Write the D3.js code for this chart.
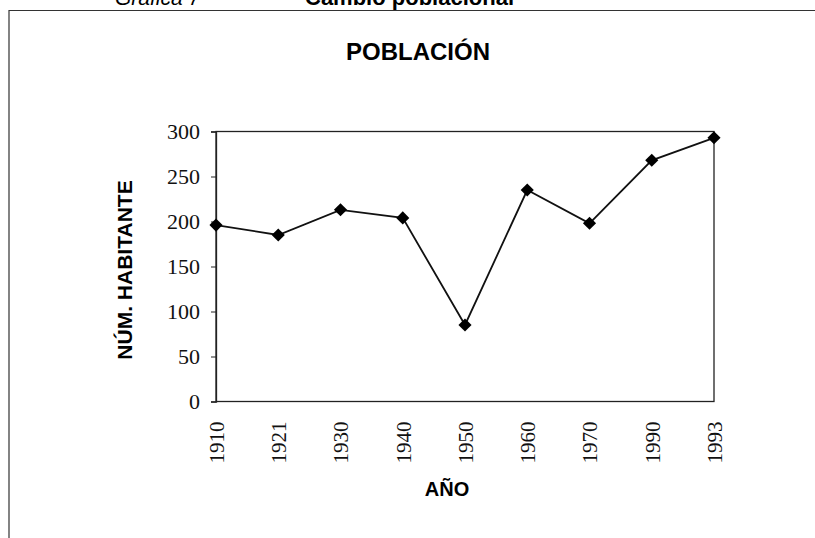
<!DOCTYPE html>
<html>
<head>
<meta charset="utf-8">
<script src="https://cdn.jsdelivr.net/npm/d3@7"></script>
<style>
  body { margin: 0; background: #fff; }
</style>
</head>
<body>
<div id="chart"></div>
<script>
const years = ["1910", "1921", "1930", "1940", "1950", "1960", "1970", "1990", "1993"];
const habitantes = [196, 185, 213, 204, 85, 235, 198, 268, 293];
const yTicks = [0, 50, 100, 150, 200, 250, 300];

const width = 815;
const height = 538;
const plotLeft = 216;
const plotRight = 714;
const plotTop = 131.5;
const plotBottom = 401.5;

const data = years.map((y, i) => ({ year: y, value: habitantes[i] }));

const x = d3.scalePoint()
  .domain(years)
  .range([plotLeft, plotRight])
  .padding(0);

const y = d3.scaleLinear()
  .domain([0, 300])
  .range([plotBottom, plotTop]);

const svg = d3.select("#chart")
  .append("svg")
  .attr("width", width)
  .attr("height", height)
  .attr("viewBox", [0, 0, width, height]);

// page header (cut off at the top, as in the scan)
svg.append("text")
  .attr("x", 115)
  .attr("y", 5)
  .attr("font-family", "Liberation Sans, Arial, sans-serif")
  .attr("font-style", "italic")
  .attr("font-size", 21)
  .text("Gráfica 7");

svg.append("text")
  .attr("x", 305)
  .attr("y", 5)
  .attr("font-family", "Liberation Sans, Arial, sans-serif")
  .attr("font-weight", "bold")
  .attr("font-size", 22)
  .text("Cambio poblacional");

// outer frame
svg.append("path")
  .attr("d", `M9,${height} L9,10.5 L${width},10.5`)
  .attr("fill", "none")
  .attr("stroke", "#333")
  .attr("stroke-width", 1.2);

// title
svg.append("text")
  .attr("x", 418)
  .attr("y", 60)
  .attr("text-anchor", "middle")
  .attr("font-family", "Liberation Sans, Arial, sans-serif")
  .attr("font-weight", "bold")
  .attr("font-size", 24)
  .text("POBLACIÓN");

// plot frame
svg.append("rect")
  .attr("x", plotLeft)
  .attr("y", plotTop)
  .attr("width", plotRight - plotLeft)
  .attr("height", plotBottom - plotTop)
  .attr("fill", "none")
  .attr("stroke", "#222")
  .attr("stroke-width", 1.3);

// y axis
const yAxis = svg.append("g")
  .attr("transform", `translate(${plotLeft},0)`)
  .call(d3.axisLeft(y).tickValues(yTicks).tickSize(5).tickPadding(11));
yAxis.select(".domain").attr("stroke", "#222").attr("stroke-width", 1.3);
yAxis.selectAll(".tick line").attr("stroke", "#222");
yAxis.selectAll(".tick text")
  .attr("font-family", "Liberation Serif, Times New Roman, serif")
  .attr("font-size", 22)
  .attr("fill", "#111");

// x axis
const xAxis = svg.append("g")
  .attr("transform", `translate(0,${plotBottom})`)
  .call(d3.axisBottom(x).tickSize(0).tickPadding(0));
xAxis.select(".domain").remove();
xAxis.selectAll(".tick text")
  .attr("font-family", "Liberation Serif, Times New Roman, serif")
  .attr("font-size", 21)
  .attr("fill", "#111")
  .attr("text-anchor", "end")
  .attr("transform", "translate(0,20) rotate(-90)")
  .attr("x", 0)
  .attr("y", 0)
  .attr("dy", "0.35em");

// axis titles
svg.append("text")
  .attr("transform", `translate(132,270) rotate(-90)`)
  .attr("text-anchor", "middle")
  .attr("font-family", "Liberation Sans, Arial, sans-serif")
  .attr("font-weight", "bold")
  .attr("font-size", 21)
  .text("NÚM. HABITANTE");

svg.append("text")
  .attr("x", 447)
  .attr("y", 496)
  .attr("text-anchor", "middle")
  .attr("font-family", "Liberation Sans, Arial, sans-serif")
  .attr("font-weight", "bold")
  .attr("font-size", 20)
  .text("AÑO");

// line
const line = d3.line()
  .x((d) => x(d.year))
  .y((d) => y(d.value));

svg.append("path")
  .datum(data)
  .attr("fill", "none")
  .attr("stroke", "#111")
  .attr("stroke-width", 1.8)
  .attr("d", line);

// diamond markers
svg.selectAll(".marker")
  .data(data)
  .enter()
  .append("path")
  .attr("class", "marker")
  .attr("transform", (d) => `translate(${x(d.year)},${y(d.value)})`)
  .attr("d", d3.symbol().type(d3.symbolDiamond2).size(110))
  .attr("fill", "#000");
</script>
</body>
</html>
